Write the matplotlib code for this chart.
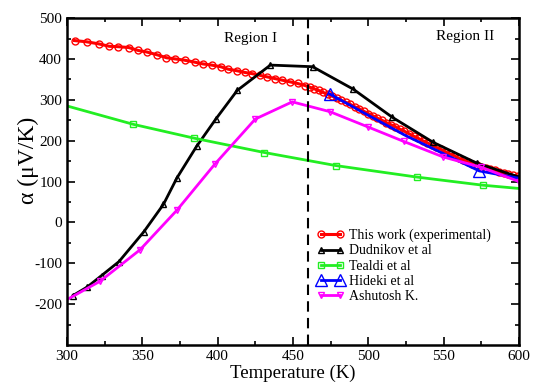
import matplotlib.pyplot as plt

plt.rcParams['font.family'] = ['Liberation Serif', 'DejaVu Serif']
plt.rcParams['axes.unicode_minus'] = False

# Seebeck coefficient (uV/K) vs temperature (K)
temp_this = [305, 313, 321, 328, 334, 341, 347, 353, 360, 366, 372, 378, 385, 390,
             396, 402, 407, 413, 418, 423, 428, 433, 438, 443, 448, 453, 458, 461,
             464, 467, 470, 473, 476, 479, 482, 485, 488, 491, 494, 497, 500, 503,
             506, 509, 512, 515, 518, 521, 524, 527, 530, 533, 536, 539, 542, 545,
             548, 551, 554, 557, 560, 563, 566, 569, 572, 575, 578, 581, 584, 587,
             590, 593, 596, 599]
alpha_this = [445, 442, 437, 431, 430, 428, 421, 417, 410, 403, 400, 397, 392, 388,
              385, 381, 375, 371, 367, 364, 360, 356, 352, 348, 344, 340, 335, 331,
              327, 323, 318, 314, 309, 304, 299, 294, 289, 283, 278, 272, 266, 261,
              255, 250, 244, 239, 234, 228, 223, 217, 211, 206, 200, 195, 189, 184,
              179, 173, 168, 163, 157, 153, 148, 144, 140, 136, 133, 130, 127, 124,
              121, 118, 115, 113]

temp_dud = [304, 313.5, 323, 334.5, 351, 364, 373, 386, 399, 413, 435, 463, 490, 516, 543, 572, 600]
alpha_dud = [-179, -158, -130, -96, -23, 44, 109, 186, 254, 323, 385, 381, 326, 257, 196, 145, 111]

temp_teal = [300, 344, 384.5, 431, 478.5, 532, 576, 600]
alpha_teal = [285, 240, 206, 171, 139, 111, 91, 83]

temp_hid = [474.5, 500, 525, 550, 573.6, 600]
alpha_hid = [314, 262, 212, 168, 126, 108]

temp_ash = [300, 322, 348.5, 373, 398, 425, 449.5, 474.5, 499.5, 523.6, 549.8, 574.8, 600]
alpha_ash = [-189, -144, -67, 30, 142, 253, 295, 271, 234, 198, 160, 135, 100]

fig = plt.figure(figsize=(5.38, 3.85), dpi=100)
ax = fig.add_axes([0.1245, 0.104, 0.8402, 0.849])

ax.plot(temp_this, alpha_this, color='#ff0000', lw=2.2, marker='o', ms=5,
        mfc='none', mec='#ff0000', mew=1.0, label='This work (experimental)')
ax.plot(temp_dud, alpha_dud, color='black', lw=2, marker='^', ms=4,
        mfc='none', mec='black', mew=1.0, label='Dudnikov et al')
ax.plot(temp_teal, alpha_teal, color='#22ee22', lw=2, marker='s', ms=4.5,
        mfc='none', mec='#22ee22', mew=1.0, markevery=slice(1, -1), label='Tealdi et al')
ax.plot(temp_hid, alpha_hid, color='#0000ff', lw=2, marker='^', ms=9,
        mfc='none', mec='#0000ff', mew=1.0, markevery=[0, 4], label='Hideki et al')
ax.plot(temp_ash, alpha_ash, color='#ff00ff', lw=2, marker='v', ms=5,
        mfc='none', mec='#ff00ff', mew=1.0, markevery=slice(1, None), label='Ashutosh K.')

# boundary between the two regions
ax.axvline(460, color='black', lw=1.5, ls=(0, (5, 3)))
ax.text(422, 451, 'Region I', ha='center', va='center', fontsize=11)
ax.text(564, 455, 'Region II', ha='center', va='center', fontsize=11)

ax.set_xlim(300, 600)
ax.set_ylim(-300, 500)
ax.set_xticks(range(300, 601, 50))
ax.set_xticks(range(325, 600, 50), minor=True)
ax.set_yticks(range(-200, 501, 100))
ax.set_yticks(range(-250, 500, 100), minor=True)
ax.tick_params(which='both', direction='in', top=True, right=True, labelsize=11, width=1.2)
ax.tick_params(which='major', length=6)
ax.tick_params(which='minor', length=3)
for s in ax.spines.values():
    s.set_linewidth(1.8)

ax.set_xlabel('Temperature (K)', fontsize=13.5, labelpad=1)
ax.set_ylabel('α (μV/K)', fontsize=17)
ax.yaxis.set_label_coords(-0.062, 0.565)

leg = ax.legend(loc='upper left', bbox_to_anchor=(0.54, 0.372), frameon=False,
                fontsize=10, numpoints=2, handlelength=2.0, handletextpad=0.3,
                labelspacing=0.15, borderaxespad=0)

fig.savefig('out.png', dpi=100)
